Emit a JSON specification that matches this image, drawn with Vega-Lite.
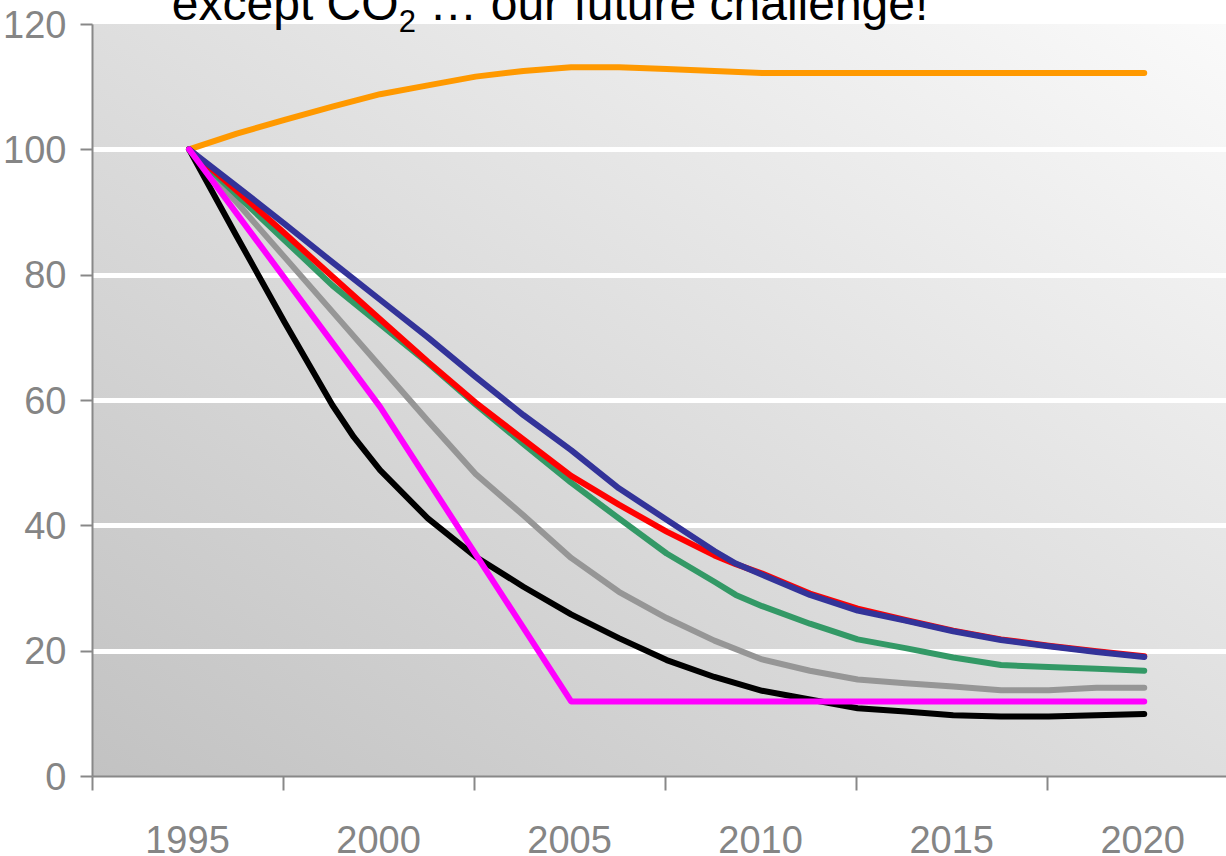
{
  "$schema": "https://vega.github.io/schema/vega-lite/v6.json",
  "width": 1134,
  "height": 752,
  "autosize": {"type": "none"},
  "padding": {"left": 92, "top": 24, "right": 0, "bottom": 80},
  "background": "white",
  "config": {
    "view": {
      "stroke": null,
      "fill": {
        "gradient": "linear",
        "x1": 0, "y1": 1, "x2": 1, "y2": 0,
        "stops": [
          {"offset": 0, "color": "#c2c2c2"},
          {"offset": 1, "color": "#fafafa"}
        ]
      }
    }
  },
  "layer": [
    {
      "data": {
        "values": [
          {"s": "orange", "x": 1995, "v": 100},
          {"s": "orange", "x": 1996.25, "v": 102.5},
          {"s": "orange", "x": 1997.5, "v": 104.7},
          {"s": "orange", "x": 1998.75, "v": 106.8},
          {"s": "orange", "x": 2000, "v": 108.8},
          {"s": "orange", "x": 2001.25, "v": 110.2},
          {"s": "orange", "x": 2002.5, "v": 111.6},
          {"s": "orange", "x": 2003.75, "v": 112.5},
          {"s": "orange", "x": 2005, "v": 113.1},
          {"s": "orange", "x": 2006.25, "v": 113.1},
          {"s": "orange", "x": 2007.5, "v": 112.8},
          {"s": "orange", "x": 2008.75, "v": 112.5},
          {"s": "orange", "x": 2010, "v": 112.2},
          {"s": "orange", "x": 2011.25, "v": 112.2},
          {"s": "orange", "x": 2012.5, "v": 112.2},
          {"s": "orange", "x": 2013.75, "v": 112.2},
          {"s": "orange", "x": 2015, "v": 112.2},
          {"s": "orange", "x": 2016.25, "v": 112.2},
          {"s": "orange", "x": 2017.5, "v": 112.2},
          {"s": "orange", "x": 2018.75, "v": 112.2},
          {"s": "orange", "x": 2020, "v": 112.2},

          {"s": "black", "x": 1995, "v": 100},
          {"s": "black", "x": 1996.25, "v": 86.1},
          {"s": "black", "x": 1997.5, "v": 72.4},
          {"s": "black", "x": 1998.75, "v": 59.2},
          {"s": "black", "x": 1999.31, "v": 54.1},
          {"s": "black", "x": 2000, "v": 48.8},
          {"s": "black", "x": 2001.25, "v": 41.1},
          {"s": "black", "x": 2002.5, "v": 35.0},
          {"s": "black", "x": 2003.75, "v": 30.2},
          {"s": "black", "x": 2005, "v": 25.8},
          {"s": "black", "x": 2006.25, "v": 22.0},
          {"s": "black", "x": 2007.5, "v": 18.5},
          {"s": "black", "x": 2008.75, "v": 15.8},
          {"s": "black", "x": 2010, "v": 13.6},
          {"s": "black", "x": 2011.25, "v": 12.2},
          {"s": "black", "x": 2012.5, "v": 10.8},
          {"s": "black", "x": 2013.75, "v": 10.3},
          {"s": "black", "x": 2015, "v": 9.7},
          {"s": "black", "x": 2016.25, "v": 9.5},
          {"s": "black", "x": 2017.5, "v": 9.5},
          {"s": "black", "x": 2018.75, "v": 9.7},
          {"s": "black", "x": 2020, "v": 9.9},

          {"s": "gray", "x": 1995, "v": 100},
          {"s": "gray", "x": 1996.25, "v": 91.5},
          {"s": "gray", "x": 1997.5, "v": 82.8},
          {"s": "gray", "x": 1998.75, "v": 74.1},
          {"s": "gray", "x": 2000, "v": 65.4},
          {"s": "gray", "x": 2001.25, "v": 56.7},
          {"s": "gray", "x": 2002.5, "v": 48.2},
          {"s": "gray", "x": 2003.75, "v": 41.6},
          {"s": "gray", "x": 2005, "v": 34.8},
          {"s": "gray", "x": 2006.25, "v": 29.4},
          {"s": "gray", "x": 2007.5, "v": 25.2},
          {"s": "gray", "x": 2008.75, "v": 21.6},
          {"s": "gray", "x": 2010, "v": 18.6},
          {"s": "gray", "x": 2011.25, "v": 16.8},
          {"s": "gray", "x": 2012.5, "v": 15.4},
          {"s": "gray", "x": 2013.75, "v": 14.8},
          {"s": "gray", "x": 2015, "v": 14.3},
          {"s": "gray", "x": 2016.25, "v": 13.7},
          {"s": "gray", "x": 2017.5, "v": 13.7},
          {"s": "gray", "x": 2018.75, "v": 14.1},
          {"s": "gray", "x": 2020, "v": 14.1},

          {"s": "green", "x": 1995, "v": 100},
          {"s": "green", "x": 1996.25, "v": 92.7},
          {"s": "green", "x": 1997.5, "v": 85.5},
          {"s": "green", "x": 1998.75, "v": 78.3},
          {"s": "green", "x": 2000, "v": 72.1},
          {"s": "green", "x": 2001.25, "v": 65.9},
          {"s": "green", "x": 2002.5, "v": 59.3},
          {"s": "green", "x": 2003.75, "v": 53.0},
          {"s": "green", "x": 2005, "v": 46.8},
          {"s": "green", "x": 2006.25, "v": 41.1},
          {"s": "green", "x": 2007.5, "v": 35.5},
          {"s": "green", "x": 2008.75, "v": 31.0},
          {"s": "green", "x": 2009.31, "v": 28.9},
          {"s": "green", "x": 2010, "v": 27.1},
          {"s": "green", "x": 2011.25, "v": 24.3},
          {"s": "green", "x": 2012.5, "v": 21.8},
          {"s": "green", "x": 2013.75, "v": 20.4},
          {"s": "green", "x": 2015, "v": 18.9},
          {"s": "green", "x": 2016.25, "v": 17.7},
          {"s": "green", "x": 2017.5, "v": 17.4},
          {"s": "green", "x": 2018.75, "v": 17.1},
          {"s": "green", "x": 2020, "v": 16.8},

          {"s": "red", "x": 1995, "v": 100},
          {"s": "red", "x": 1996.25, "v": 93.4},
          {"s": "red", "x": 1997.5, "v": 86.6},
          {"s": "red", "x": 1998.75, "v": 79.7},
          {"s": "red", "x": 2000, "v": 72.9},
          {"s": "red", "x": 2001.25, "v": 66.1},
          {"s": "red", "x": 2002.5, "v": 59.6},
          {"s": "red", "x": 2003.75, "v": 53.7},
          {"s": "red", "x": 2005, "v": 47.9},
          {"s": "red", "x": 2006.25, "v": 43.3},
          {"s": "red", "x": 2007.5, "v": 39.0},
          {"s": "red", "x": 2008.75, "v": 35.2},
          {"s": "red", "x": 2009.31, "v": 33.8},
          {"s": "red", "x": 2010, "v": 32.3},
          {"s": "red", "x": 2011.25, "v": 29.1},
          {"s": "red", "x": 2012.5, "v": 26.7},
          {"s": "red", "x": 2013.75, "v": 24.9},
          {"s": "red", "x": 2015, "v": 23.2},
          {"s": "red", "x": 2016.25, "v": 21.8},
          {"s": "red", "x": 2017.5, "v": 20.8},
          {"s": "red", "x": 2018.75, "v": 19.9},
          {"s": "red", "x": 2020, "v": 19.1},

          {"s": "blue", "x": 1995, "v": 100},
          {"s": "blue", "x": 1996.25, "v": 94.1},
          {"s": "blue", "x": 1997.5, "v": 88.1},
          {"s": "blue", "x": 1998.75, "v": 82.0},
          {"s": "blue", "x": 2000, "v": 76.0},
          {"s": "blue", "x": 2001.25, "v": 70.0},
          {"s": "blue", "x": 2002.5, "v": 63.7},
          {"s": "blue", "x": 2003.75, "v": 57.6},
          {"s": "blue", "x": 2005, "v": 52.0},
          {"s": "blue", "x": 2006.25, "v": 45.9},
          {"s": "blue", "x": 2007.5, "v": 40.9},
          {"s": "blue", "x": 2008.75, "v": 35.9},
          {"s": "blue", "x": 2009.31, "v": 33.9},
          {"s": "blue", "x": 2010, "v": 32.1},
          {"s": "blue", "x": 2011.25, "v": 28.9},
          {"s": "blue", "x": 2012.5, "v": 26.4},
          {"s": "blue", "x": 2013.75, "v": 24.8},
          {"s": "blue", "x": 2015, "v": 23.1},
          {"s": "blue", "x": 2016.25, "v": 21.7},
          {"s": "blue", "x": 2017.5, "v": 20.7},
          {"s": "blue", "x": 2018.75, "v": 19.8},
          {"s": "blue", "x": 2020, "v": 19.0},

          {"s": "magenta", "x": 1995, "v": 100},
          {"s": "magenta", "x": 2000, "v": 58.9},
          {"s": "magenta", "x": 2005, "v": 11.9},
          {"s": "magenta", "x": 2010, "v": 11.9},
          {"s": "magenta", "x": 2015, "v": 11.9},
          {"s": "magenta", "x": 2020, "v": 11.9}
        ]
      },
      "mark": {"type": "line", "strokeWidth": 6, "strokeCap": "round", "strokeJoin": "round"},
      "encoding": {
        "x": {
          "field": "x",
          "type": "quantitative",
          "scale": {"domain": [1992.46, 2022.14], "nice": false, "zero": false},
          "axis": {
            "values": [1992.46, 1997.46, 2002.46, 2007.46, 2012.46, 2017.46],
            "labelExpr": "'' + (round(datum.value) + 3)",
            "labelOffset": 95,
            "labelFont": "Liberation Sans",
            "labelFontSize": 38,
            "labelColor": "#858585",
            "labelPadding": 32,
            "labelBound": false,
            "labelFlush": false,
            "labelOverlap": false,
            "tickSize": 14,
            "tickWidth": 2,
            "tickColor": "#888888",
            "domainColor": "#888888",
            "domainWidth": 2,
            "grid": false,
            "title": null
          }
        },
        "y": {
          "field": "v",
          "type": "quantitative",
          "scale": {"domain": [0, 120], "nice": false},
          "axis": {
            "values": [0, 20, 40, 60, 80, 100, 120],
            "grid": true,
            "gridColor": "white",
            "gridWidth": 5,
            "gridOpacity": {"condition": {"test": "datum.value == 0 || datum.value == 120", "value": 0}, "value": 1},
            "labelFont": "Liberation Sans",
            "labelFontSize": 38,
            "labelColor": "#858585",
            "labelPadding": 14,
            "labelOffset": 2,
            "tickSize": 12,
            "tickWidth": 2,
            "tickColor": "#888888",
            "domainColor": "#888888",
            "domainWidth": 2,
            "title": null
          }
        },
        "color": {
          "field": "s",
          "type": "nominal",
          "scale": {
            "domain": ["orange", "black", "gray", "green", "red", "blue", "magenta"],
            "range": ["#ff9900", "#000000", "#969696", "#339966", "#ff0000", "#333399", "#ff00ff"]
          },
          "legend": null
        }
      }
    },
    {
      "data": {"values": [{"t": "except CO"}]},
      "mark": {"type": "text", "align": "left", "baseline": "alphabetic", "font": "Liberation Sans", "fontSize": 48, "color": "black", "clip": false},
      "encoding": {
        "x": {"datum": 1994.55, "type": "quantitative"},
        "y": {"datum": 120.64, "type": "quantitative"},
        "text": {"field": "t"}
      }
    },
    {
      "data": {"values": [{"t": "2"}]},
      "mark": {"type": "text", "align": "left", "baseline": "alphabetic", "font": "Liberation Sans", "fontSize": 31, "color": "black", "clip": false},
      "encoding": {
        "x": {"datum": 2000.49, "type": "quantitative"},
        "y": {"datum": 118.8, "type": "quantitative"},
        "text": {"field": "t"}
      }
    },
    {
      "data": {"values": [{"t": "… our future challenge!"}]},
      "mark": {"type": "text", "align": "left", "baseline": "alphabetic", "font": "Liberation Sans", "fontSize": 48, "color": "black", "clip": false},
      "encoding": {
        "x": {"datum": 2001.29, "type": "quantitative"},
        "y": {"datum": 120.64, "type": "quantitative"},
        "text": {"field": "t"}
      }
    }
  ]
}
